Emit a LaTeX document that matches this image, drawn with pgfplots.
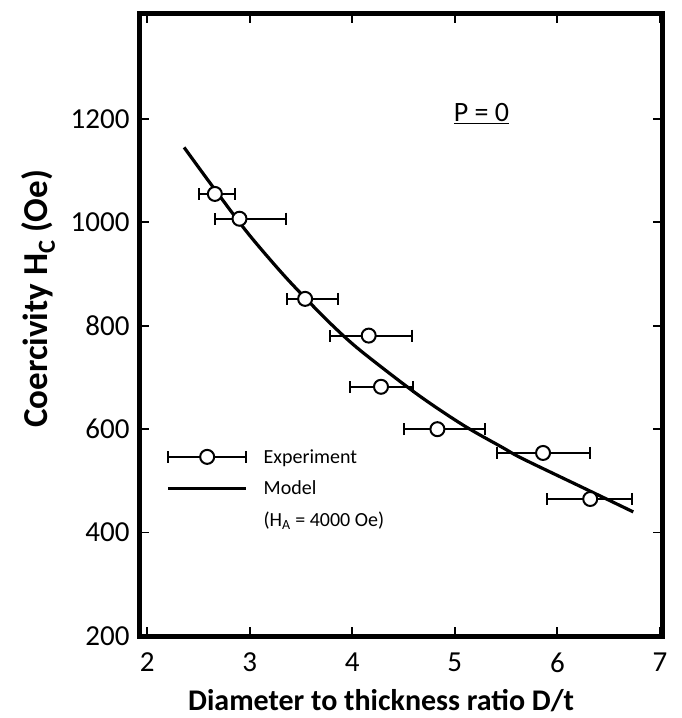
\documentclass[border=0pt]{standalone}
\usepackage{fontspec}
\setmainfont{Carlito}
\usepackage{pgfplots}
\pgfplotsset{compat=1.18}
\usetikzlibrary{calc}
\begin{document}
\begin{tikzpicture}
\begin{axis}[
    scale only axis,
    width=522pt, height=622pt,
    xmin=1.93, xmax=7.02,
    ymin=200, ymax=1403,
    xtick={2,3,4,5,6,7},
    ytick={200,400,600,800,1000,1200},
    tick align=inside,
    major tick length=9pt,
    tick style={line width=1.8pt, black},
    axis line style={line width=5pt},
    /pgf/number format/assume math mode=true,
    /pgf/number format/1000 sep={},
    tick label style={font=\fontsize{29}{32}\selectfont},
    xticklabel style={yshift=-13pt},
    yticklabel style={xshift=-7pt},
    xlabel={\textbf{Diameter to thickness ratio D/t}},
    ylabel={\textbf{Coercivity H\textsubscript{C} (Oe)}},
    xlabel style={font=\fontsize{30}{33}\selectfont,
        at={(axis description cs:0.462,-0.104)}, anchor=center},
    ylabel style={font=\fontsize{35}{38}\selectfont,
        at={(axis description cs:-0.195,0.542)}, anchor=center},
    legend cell align=left,
    legend style={draw=none, fill=none, font=\fontsize{20}{22}\selectfont,
        at={(rel axis cs:0.045,0.307)}, anchor=north west,
        row sep=12pt, column sep=14pt},
]
\addplot[black, line width=3.2pt, smooth, forget plot] coordinates {
    (2.36,1145) (2.61,1077) (2.97,982) (3.30,905) (3.54,854) (3.81,800)
    (4.08,752) (4.63,668) (5.08,608) (5.47,564) (5.66,543) (6.29,483) (6.74,440)
};
\addplot[black, only marks, mark=*, mark size=7pt, forget plot,
    mark options={fill=white, line width=2pt},
    error bars/.cd, x dir=both, x explicit,
    error bar style={line width=2pt},
    error mark options={rotate=90, mark size=6pt, line width=2pt}]
coordinates {
    (2.66,1055) += (0.20,0) -= (0.15,0)
    (2.90,1007) += (0.45,0) -= (0.24,0)
    (3.54,852)  += (0.32,0) -= (0.18,0)
    (4.16,781)  += (0.42,0) -= (0.38,0)
    (4.28,682)  += (0.31,0) -= (0.30,0)
    (4.83,600)  += (0.46,0) -= (0.33,0)
    (5.86,554)  += (0.46,0) -= (0.45,0)
    (6.32,465)  += (0.41,0) -= (0.42,0)
};
\addlegendimage{legend image code/.code={
    \draw[line width=2pt] (0pt,0pt) -- (78pt,0pt);
    \draw[line width=2pt] (0pt,-6pt) -- (0pt,6pt) (78pt,-6pt) -- (78pt,6pt);
    \draw[line width=2pt, fill=white] (39pt,0pt) circle (7pt);}}
\addlegendentry{Experiment}
\addlegendimage{legend image code/.code={
    \draw[line width=3pt] (0pt,0pt) -- (78pt,0pt);}}
\addlegendentry{Model}
\addlegendimage{empty legend}
\addlegendentry{(H\textsubscript{A} = 4000 Oe)}
\node[font=\fontsize{28}{30}\selectfont] at (axis cs:5.26,1211) {\underline{P = 0}};
\end{axis}
\path ($(current axis.south west)+(-140pt,-82pt)$) rectangle ($(current axis.north east)+(20pt,14pt)$);
\end{tikzpicture}
\end{document}
